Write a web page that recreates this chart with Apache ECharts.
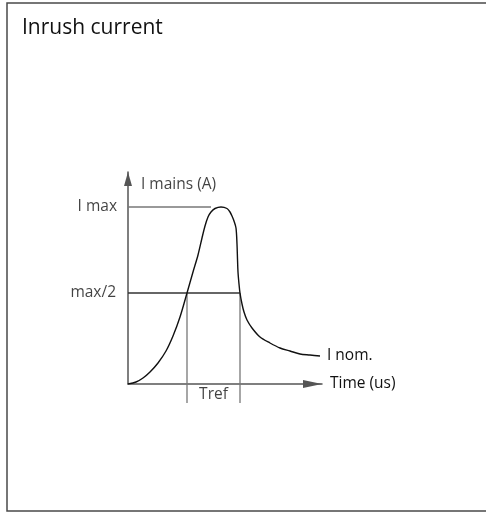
<!DOCTYPE html>
<html>
<head>
<meta charset="utf-8">
<script src="https://cdn.jsdelivr.net/npm/echarts@6/dist/echarts.min.js"></script>
<style>
  html, body { margin: 0; padding: 0; background: #fff; }
  #chart { width: 486px; height: 513px; }
</style>
</head>
<body>
<div id="chart"></div>
<script>
// Inrush current waveform, schematic units (time vs. mains current)
const TIME = [0, 8, 15, 22, 30, 38, 45, 52, 59, 65, 70, 74, 77, 80, 83, 87, 93, 99, 102, 104, 106, 108, 109, 109.5, 110, 111, 112, 114, 116, 119, 124, 132, 142, 152, 162, 172, 182, 192];
const CURRENT = [0, 2, 6, 12, 21, 33, 48, 67, 91, 112, 129, 146, 158, 167, 172, 175.5, 177, 175.5, 172, 168, 163, 156, 140, 125, 112, 100, 91, 80, 72, 64, 56, 47, 41, 36, 33, 30, 29, 28];

const I_MAX = 177;          // peak current
const I_HALF = 91;          // half-peak level
const I_MAX_LINE_END = 83;  // time where the I max guide stops
const T_REF = [59, 112];    // times where the current crosses max/2
const TREF_DROP = -19;      // guides run below the time axis
const T_END = 194;          // time axis extent
const I_END = 212;          // current axis extent

const TEXT = '#111';
const FONT = '"Open Sans", "Noto Sans", sans-serif';

const curve = TIME.map((t, i) => [t, CURRENT[i]]);

function guide(points, color) {
  return {
    type: 'line',
    data: points,
    symbol: 'none',
    clip: false,
    silent: true,
    lineStyle: { color: color, width: 1.3 },
    z: 1
  };
}

function textItem(value, text, position, distance) {
  return {
    value: value,
    label: { show: true, formatter: text, position: position, distance: distance }
  };
}

const chart = echarts.init(document.getElementById('chart'), null, { renderer: 'canvas' });

chart.setOption({
  animation: false,
  backgroundColor: '#fff',
  title: {
    text: 'Inrush current',
    left: 22,
    top: 18,
    padding: 0,
    textStyle: { fontFamily: FONT, fontSize: 21, fontWeight: 'normal', color: TEXT }
  },
  graphic: [{
    type: 'rect',
    shape: { x: 7, y: 3, width: 500, height: 508 },
    style: { fill: 'none', stroke: '#4a4a4a', lineWidth: 1.5 },
    silent: true
  }],
  grid: { left: 128, top: 172, right: 164, bottom: 129, containLabel: false },
  xAxis: {
    type: 'value',
    min: 0,
    max: T_END,
    name: 'Time (us)',
    nameLocation: 'end',
    nameGap: 8,
    nameTextStyle: { fontFamily: FONT, fontSize: 15.5, color: TEXT },
    axisLine: {
      show: true,
      onZero: true,
      symbol: ['none', 'triangle'],
      symbolSize: [8, 19],
      symbolOffset: [0, -9.5],
      lineStyle: { color: '#555', width: 1.5 }
    },
    axisTick: { show: false },
    axisLabel: { show: false },
    splitLine: { show: false }
  },
  yAxis: {
    type: 'value',
    min: 0,
    max: I_END,
    axisLine: {
      show: true,
      onZero: true,
      symbol: ['none', 'triangle'],
      symbolSize: [8, 14],
      symbolOffset: [0, -7],
      lineStyle: { color: '#555', width: 1.5 }
    },
    axisTick: { show: false },
    axisLabel: { show: false },
    splitLine: { show: false }
  },
  series: [
    guide([[0, I_MAX], [I_MAX_LINE_END, I_MAX]], '#777'),
    guide([[0, I_HALF], [T_REF[1], I_HALF]], '#333'),
    guide([[T_REF[0], I_HALF], [T_REF[0], TREF_DROP]], '#777'),
    guide([[T_REF[1], I_HALF], [T_REF[1], TREF_DROP]], '#777'),
    {
      type: 'line',
      data: curve,
      symbol: 'none',
      smooth: 0.3,
      silent: true,
      z: 3,
      lineStyle: { color: '#111', width: 1.4 },
      endLabel: {
        show: true,
        formatter: 'I nom.',
        distance: 7,
        fontFamily: FONT,
        fontSize: 15.5,
        color: TEXT
      }
    },
    {
      type: 'scatter',
      symbolSize: 0,
      clip: false,
      silent: true,
      label: { fontFamily: FONT, fontSize: 15.5, color: TEXT },
      data: [
        textItem([0, I_MAX], 'I max', 'left', 11),
        textItem([0, I_HALF], 'max/2', 'left', 12),
        textItem([0, I_END - 13], 'I mains (A)', 'right', 13),
        textItem([(T_REF[0] + T_REF[1]) / 2, -11], 'Tref', 'inside', 0)
      ]
    }
  ]
});
</script>
</body>
</html>
